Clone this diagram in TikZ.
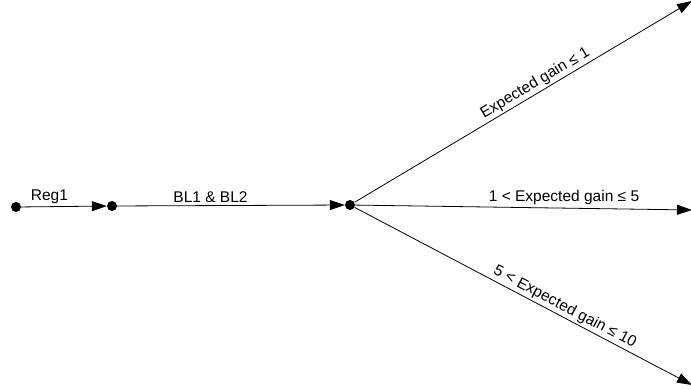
\documentclass[tikz,border=0pt]{standalone}
\usepackage{fontspec}
\setmainfont{Liberation Sans}
\usetikzlibrary{arrows.meta}
\begin{document}
\begin{tikzpicture}[x=1pt,y=-1pt,
  dotnode/.style={circle,fill=black,inner sep=0pt,minimum size=10pt},
  arr/.style={draw=black,line width=0.8pt,-{Triangle[length=15pt,width=10pt]}},
  lbl/.style={font=\fontsize{15.5}{18}\selectfont,inner sep=2pt}]
\useasboundingbox (0,0) rectangle (691,390);
\node[dotnode] (d1) at (16,207) {};
\node[dotnode] (d2) at (112,206) {};
\node[dotnode] (d3) at (350,205) {};
\coordinate (e1) at (692,1);
\coordinate (e2) at (692,210);
\coordinate (e3) at (692,385);
\draw[arr] (d1) -- node[lbl,above=1pt,pos=0.33] {Reg1} (d2);
\draw[arr] (d2) -- node[lbl,above=1pt,pos=0.41] {BL1 \& BL2} (d3);
\draw[arr] (d3) -- node[lbl,sloped,above,pos=0.55] {Expected gain ≤ 1} (e1);
\draw[arr] (d3) -- node[lbl,above=1pt,pos=0.62] {1 < Expected gain ≤ 5} (e2);
\draw[arr] (d3) -- node[lbl,sloped,above,pos=0.61] {5 < Expected gain ≤ 10} (e3);
\end{tikzpicture}
\end{document}
